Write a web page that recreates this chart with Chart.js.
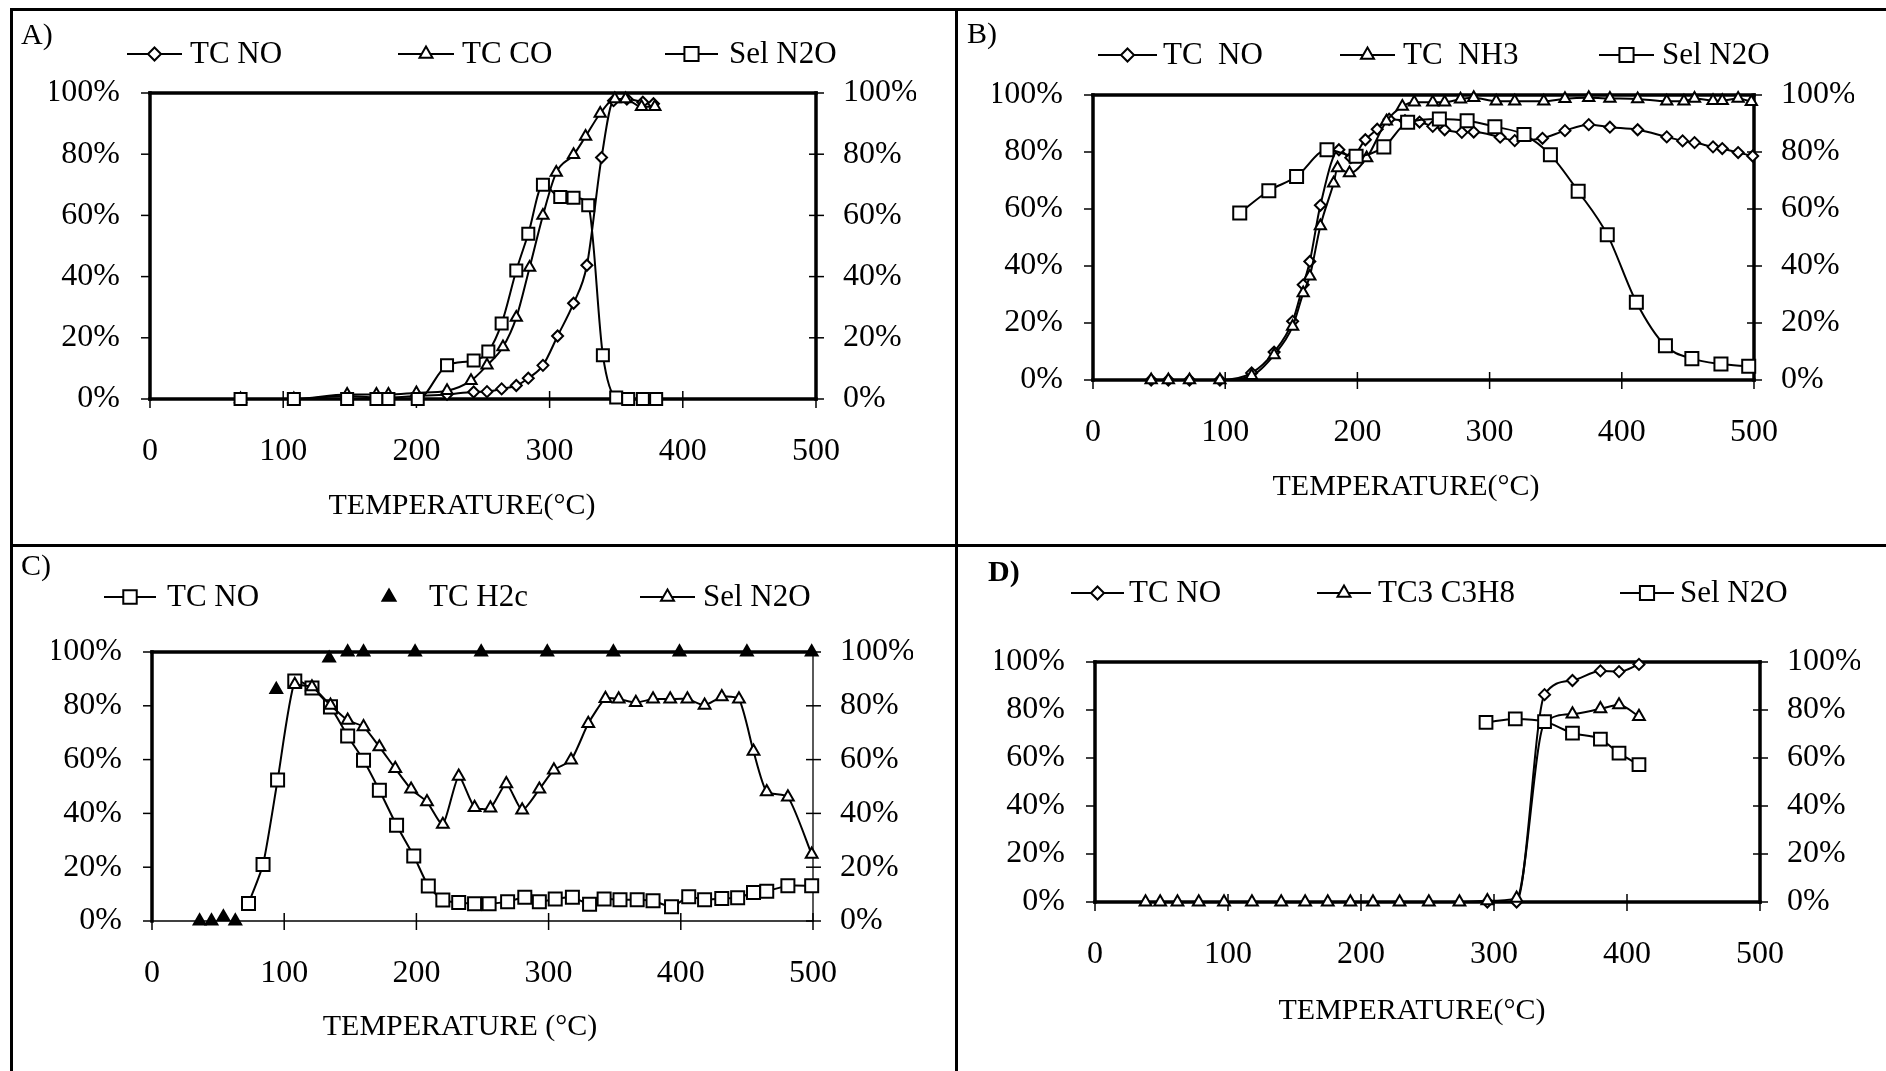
<!DOCTYPE html>
<html>
<head>
<meta charset="utf-8">
<script src="https://cdn.jsdelivr.net/npm/chart.js@4.4.1/dist/chart.umd.min.js"></script>
<style>
  body { margin: 0; background: #fff; width: 1886px; height: 1071px; overflow: hidden; position: relative; }
  .rule { position: absolute; background: #000; }
  .panel { position: absolute; }
</style>
</head>
<body>
<div class="rule" style="left:10px;top:8px;width:1876px;height:3px"></div>
<div class="rule" style="left:10px;top:8px;width:3px;height:1063px"></div>
<div class="rule" style="left:955px;top:8px;width:3px;height:1063px"></div>
<div class="rule" style="left:10px;top:544px;width:1876px;height:3px"></div>

<script>
// ---- Panel A: TC NO / TC CO / Sel N2O ----
const tempA_NO  = [68, 108, 148, 170, 179, 201, 223, 243, 253, 264, 275, 284, 295, 306, 318, 328, 339, 348, 358, 370, 378];
const valA_NO   = [0, 0, 1, 0.5, 0.5, 1, 1.5, 2.3, 2.4, 3.3, 4.4, 6.8, 11, 20.6, 31.3, 43.7, 78.9, 97.5, 98, 97, 96.5];
const tempA_CO  = [68, 108, 148, 170, 179, 200, 223, 241, 253, 265, 275, 285, 295, 305, 318, 327, 338, 349, 357, 369, 379];
const valA_CO   = [0, 0, 1.5, 1.5, 1.5, 2, 2.7, 6, 11, 17, 26.6, 43, 60, 74, 79.8, 85.8, 93.3, 98, 98, 95.5, 95.5];
const tempA_N2O = [68, 108, 148, 170, 179, 201, 223, 243, 254, 264, 275, 284, 295, 308, 318, 329, 340, 350, 359, 370, 380];
const valA_N2O  = [0, 0, 0, 0, 0, 0, 11, 12.6, 15.5, 24.7, 42, 54, 70, 66, 65.8, 63.3, 14.3, 0.5, 0, 0, 0];

// ---- Panel B: TC NO / TC NH3 / Sel N2O ----
const tempB_NO  = [44, 57, 73, 96, 120, 137, 151, 159, 164, 172, 186, 195, 206, 215, 224, 236, 247, 257, 266, 279, 288, 308, 319, 340, 357, 375, 391, 412, 434, 446, 455, 469, 476, 488, 499];
const valB_NO   = [0, 0, 0, 0, 2.5, 9.8, 20.6, 33.4, 41.6, 61.3, 80.8, 78, 84.3, 88, 91.5, 91, 90.5, 89, 87.8, 86.9, 87, 85.2, 84, 84.8, 87.5, 89.6, 88.7, 87.8, 85.3, 83.9, 83.3, 81.8, 81.2, 79.8, 78.6];
const tempB_NH3 = [44, 57, 73, 96, 120, 137, 151, 159, 164, 172, 182, 185, 194, 207, 222, 234, 243, 257, 266, 278, 288, 305, 319, 341, 357, 375, 391, 412, 434, 447, 455, 469, 476, 488, 498];
const valB_NH3  = [0, 0, 0, 0, 1.5, 8.8, 18.8, 30.5, 36.4, 54, 69, 74.4, 72.6, 77.9, 90.8, 96, 97.5, 97.5, 97.5, 98.5, 99, 97.8, 97.8, 97.8, 98.7, 99, 98.8, 98.6, 97.8, 97.8, 98.8, 98, 98, 98.8, 97.6];
const tempB_N2O = [111, 133, 154, 177, 199, 220, 238, 262, 283, 304, 326, 346, 367, 389, 411, 433, 453, 475, 496];
const valB_N2O  = [58.6, 66.4, 71.4, 80.8, 78.5, 81.8, 90.4, 91.6, 91, 88.9, 86.1, 79, 66.2, 51, 27.3, 12, 7.5, 5.6, 4.8];

// ---- Panel C: TC NO / TC H2c / Sel N2O ----
const tempC_NO  = [73, 84, 95, 108, 121, 135, 148, 160, 172, 185, 198, 209, 220, 232, 244, 255, 269, 282, 293, 305, 318, 331, 342, 354, 367, 379, 393, 406, 418, 431, 443, 455, 465, 481, 499];
const valC_NO   = [6.5, 21, 52.4, 89.2, 86.6, 79.6, 68.8, 59.8, 48.6, 35.6, 24.2, 13, 7.8, 6.9, 6.4, 6.4, 7.2, 8.8, 7.2, 8.2, 8.8, 6.2, 8.2, 7.9, 7.9, 7.5, 5.3, 9, 7.9, 8.4, 8.6, 10.6, 11.1, 13.1, 13.1];
const tempC_H2  = [36, 45, 54, 63, 94, 134, 148, 160, 199, 249, 299, 349, 399, 450, 499];
const valC_H2   = [0, 0, 1.5, 0, 86, 97.7, 100, 100, 100, 100, 100, 100, 100, 100, 100];
const tempC_N2O = [108, 121, 135, 148, 160, 172, 184, 196, 208, 220, 232, 244, 256, 268, 280, 293, 304, 317, 330, 343, 353, 366, 379, 392, 405, 418, 431, 444, 455, 465, 481, 499];
const valC_N2O  = [87.9, 87, 80.2, 74.6, 72.2, 64.7, 56.7, 49, 44.3, 35.9, 53.8, 42.2, 42, 51, 41.2, 49, 56.1, 59.8, 73.4, 82.7, 82.5, 81.2, 82.5, 82.5, 82.5, 80.2, 83.3, 82.5, 63.1, 48, 46.1, 24.8];

// ---- Panel D: TC NO / TC3 C3H8 / Sel N2O ----
const tempD_NO  = [295, 317, 338, 359, 380, 394, 409];
const valD_NO   = [0, 0, 86.4, 92.3, 96.3, 96, 99];
const tempD_C3  = [38, 49, 62, 78, 97, 118, 140, 158, 175, 192, 209, 229, 251, 274, 295, 317, 338, 359, 380, 394, 409];
const valD_C3   = [0, 0, 0, 0, 0, 0, 0, 0, 0, 0, 0, 0, 0, 0, 0.5, 1.5, 74.6, 78.3, 80.5, 82.1, 77.3];
const tempD_N2O = [294, 316, 338, 359, 380, 394, 409];
const valD_N2O  = [74.8, 76.3, 75.2, 70.4, 67.9, 62, 57.2];

const xTicks = [0, 100, 200, 300, 400, 500];
const yTicks = [0, 20, 40, 60, 80, 100];

const FONT = '"Liberation Serif", "Times New Roman", serif';

function drawMarker(ctx, shape, x, y, r, filled) {
    ctx.beginPath();
    if (shape === 'rect') {
        const s = r * Math.SQRT1_2;
        ctx.rect(x - s, y - s, 2 * s, 2 * s);
    } else if (shape === 'rectRot') {
        ctx.moveTo(x, y - r); ctx.lineTo(x + r, y); ctx.lineTo(x, y + r); ctx.lineTo(x - r, y);
        ctx.closePath();
    } else {
        let a = 0;
        for (let i = 0; i < 3; i++) {
            const px = x + Math.sin(a) * r, py = y - Math.cos(a) * r;
            i ? ctx.lineTo(px, py) : ctx.moveTo(px, py);
            a += Math.PI * 2 / 3;
        }
        ctx.closePath();
    }
    ctx.fillStyle = filled ? '#000' : '#fff';
    ctx.fill();
    ctx.stroke();
}

function line(ctx, x1, y1, x2, y2, w) {
    ctx.lineWidth = w;
    ctx.beginPath(); ctx.moveTo(x1, y1); ctx.lineTo(x2, y2); ctx.stroke();
}

// box, tick marks, legend, panel letter and axis title
const framePlugin = {
    id: 'frame',
    beforeDatasetsDraw(chart, args, o) {
        const { ctx, chartArea: a } = chart;
        const xs = chart.scales.x, ys = chart.scales.y;
        const bw = o.border;
        ctx.save();
        ctx.strokeStyle = '#000';
        ctx.lineCap = 'square';
        line(ctx, a.left, a.top, a.right, a.top, bw.top);
        line(ctx, a.left, a.bottom, a.right, a.bottom, bw.bottom);
        line(ctx, a.left, a.top, a.left, a.bottom, bw.left);
        line(ctx, a.right, a.top, a.right, a.bottom, bw.right);
        ctx.lineCap = 'butt';
        xTicks.forEach(v => {
            const px = xs.getPixelForValue(v);
            line(ctx, px, a.bottom - 8, px, a.bottom + 9, 1.5);
        });
        yTicks.forEach(v => {
            const py = ys.getPixelForValue(v);
            line(ctx, a.left - 9, py, a.left, py, 1.5);
            line(ctx, a.right - 7, py, a.right + 8, py, 1.5);
        });
        ctx.restore();
    },
    afterDraw(chart, args, o) {
        const ctx = chart.ctx;
        const ox = o.origin.x, oy = o.origin.y;
        ctx.save();
        ctx.strokeStyle = '#000';
        ctx.fillStyle = '#000';
        ctx.textBaseline = 'middle';

        // legend
        ctx.font = '31px ' + FONT;
        o.legend.items.forEach(it => {
            const y = o.legend.y - oy;
            let mx = it.mx;
            if (it.x1 !== undefined) {
                line(ctx, it.x1 - ox, y, it.x2 - ox, y, 2);
                mx = (it.x1 + it.x2) / 2;
            }
            ctx.lineWidth = 2;
            drawMarker(ctx, it.shape, mx - ox, y, it.r, it.filled);
            ctx.fillStyle = '#000';
            ctx.textAlign = 'left';
            ctx.fillText(it.text, it.tx - ox, y + 1);
        });

        // panel letter
        ctx.font = (o.label.bold ? 'bold ' : '') + '30px ' + FONT;
        ctx.textAlign = 'left';
        ctx.fillText(o.label.text, o.label.x - ox, o.label.y - oy);

        // x axis title
        ctx.font = '30px ' + FONT;
        ctx.textAlign = 'center';
        ctx.fillText(o.xTitle.text, o.xTitle.x - ox, o.xTitle.y - oy);
        ctx.restore();
    }
};

function series(temps, vals, shape, r, order, extra) {
    return Object.assign({
        data: temps.map((t, i) => ({ x: t, y: vals[i] })),
        borderColor: '#000',
        borderWidth: 2,
        pointStyle: shape,
        pointRadius: r,
        pointBorderWidth: 2,
        pointBorderColor: '#000',
        pointBackgroundColor: '#fff',
        fill: false,
        clip: false,
        order: order,
        cubicInterpolationMode: 'monotone'
    }, extra || {});
}

function buildPanel(p) {
    const wrap = document.createElement('div');
    wrap.className = 'panel';
    wrap.style.left = p.origin.x + 'px';
    wrap.style.top = p.origin.y + 'px';
    wrap.style.width = p.origin.w + 'px';
    wrap.style.height = p.origin.h + 'px';
    const canvas = document.createElement('canvas');
    wrap.appendChild(canvas);
    document.body.appendChild(wrap);

    const YW = 100, XH = 125;
    const tickFont = { family: FONT, size: 32 };

    return new Chart(canvas, {
        type: 'line',
        data: { datasets: p.datasets },
        options: {
            responsive: true,
            maintainAspectRatio: false,
            animation: false,
            events: [],
            layout: {
                padding: {
                    left: p.box.l - p.origin.x - YW,
                    top: p.box.t - p.origin.y,
                    right: p.origin.x + p.origin.w - p.box.r - YW,
                    bottom: p.origin.y + p.origin.h - p.box.b - XH
                }
            },
            scales: {
                x: {
                    type: 'linear', min: 0, max: 500,
                    afterBuildTicks: s => { s.ticks = xTicks.map(v => ({ value: v })); },
                    afterFit: s => { s.height = XH; },
                    grid: { display: false, drawTicks: false },
                    border: { display: false },
                    ticks: { padding: 33, font: tickFont, color: '#000', maxRotation: 0, autoSkip: false }
                },
                y: {
                    position: 'left', min: 0, max: 100,
                    afterBuildTicks: s => { s.ticks = yTicks.map(v => ({ value: v })); },
                    afterFit: s => { s.width = YW; },
                    grid: { display: false, drawTicks: false },
                    border: { display: false },
                    ticks: { padding: 30, font: tickFont, color: '#000', callback: v => v + '%' }
                },
                y2: {
                    position: 'right', min: 0, max: 100,
                    afterBuildTicks: s => { s.ticks = yTicks.map(v => ({ value: v })); },
                    afterFit: s => { s.width = YW; },
                    grid: { display: false, drawTicks: false },
                    border: { display: false },
                    ticks: { padding: 27, font: tickFont, color: '#000', callback: v => v + '%' }
                }
            },
            plugins: {
                legend: { display: false },
                tooltip: { enabled: false },
                frame: {
                    origin: p.origin,
                    border: p.border,
                    legend: p.legend,
                    label: p.label,
                    xTitle: p.xTitle
                }
            }
        },
        plugins: [framePlugin]
    });
}

const thick = { top: 3.5, bottom: 3.5, left: 3.5, right: 3.5 };

// A
buildPanel({
    origin: { x: 13, y: 11, w: 942, h: 533 },
    box: { l: 150, r: 816, t: 93, b: 399 },
    border: thick,
    label: { text: 'A)', x: 21, y: 36 },
    xTitle: { text: 'TEMPERATURE(°C)', x: 462, y: 506 },
    legend: { y: 54, items: [
        { x1: 127, x2: 182, tx: 190, text: 'TC NO', shape: 'rectRot', r: 6.5 },
        { x1: 398, x2: 454, tx: 462, text: 'TC CO', shape: 'triangle', r: 7.5 },
        { x1: 665, x2: 718, tx: 729, text: 'Sel N2O', shape: 'rect', r: 10 }
    ]},
    datasets: [
        series(tempA_NO, valA_NO, 'rectRot', 5.5, 2),
        series(tempA_CO, valA_CO, 'triangle', 6.5, 1),
        series(tempA_N2O, valA_N2O, 'rect', 8.5, 0)
    ]
});

// B
buildPanel({
    origin: { x: 958, y: 11, w: 928, h: 533 },
    box: { l: 1093, r: 1754, t: 95, b: 380 },
    border: thick,
    label: { text: 'B)', x: 967, y: 35 },
    xTitle: { text: 'TEMPERATURE(°C)', x: 1406, y: 487 },
    legend: { y: 55, items: [
        { x1: 1098, x2: 1157, tx: 1163, text: 'TC  NO', shape: 'rectRot', r: 6.5 },
        { x1: 1340, x2: 1395, tx: 1403, text: 'TC  NH3', shape: 'triangle', r: 7.5 },
        { x1: 1599, x2: 1654, tx: 1662, text: 'Sel N2O', shape: 'rect', r: 10 }
    ]},
    datasets: [
        series(tempB_NO, valB_NO, 'rectRot', 5.5, 2),
        series(tempB_NH3, valB_NH3, 'triangle', 6.5, 1),
        series(tempB_N2O, valB_N2O, 'rect', 9.2, 0)
    ]
});

// C
buildPanel({
    origin: { x: 13, y: 547, w: 942, h: 524 },
    box: { l: 152, r: 813, t: 652, b: 921 },
    border: { top: 3.5, left: 3.5, bottom: 1.5, right: 1.3 },
    label: { text: 'C)', x: 21, y: 567 },
    xTitle: { text: 'TEMPERATURE (°C)', x: 460, y: 1027 },
    legend: { y: 597, items: [
        { x1: 104, x2: 156, tx: 167, text: 'TC NO', shape: 'rect', r: 9.5 },
        { mx: 389, tx: 429, text: 'TC H2c', shape: 'triangle', r: 7.5, filled: true },
        { x1: 640, x2: 695, tx: 703, text: 'Sel N2O', shape: 'triangle', r: 7.5 }
    ]},
    datasets: [
        series(tempC_NO, valC_NO, 'rect', 9.2, 2, { cubicInterpolationMode: 'default', tension: 0.2 }),
        series(tempC_H2, valC_H2, 'triangle', 6.8, 1, { showLine: false, pointBackgroundColor: '#000' }),
        series(tempC_N2O, valC_N2O, 'triangle', 6.8, 0, { cubicInterpolationMode: 'default', tension: 0.2 })
    ]
});

// D
buildPanel({
    origin: { x: 958, y: 547, w: 928, h: 524 },
    box: { l: 1095, r: 1760, t: 662, b: 902 },
    border: thick,
    label: { text: 'D)', x: 988, y: 573, bold: true },
    xTitle: { text: 'TEMPERATURE(°C)', x: 1412, y: 1011 },
    legend: { y: 593, items: [
        { x1: 1071, x2: 1124, tx: 1129, text: 'TC NO', shape: 'rectRot', r: 6.5 },
        { x1: 1317, x2: 1371, tx: 1378, text: 'TC3 C3H8', shape: 'triangle', r: 7.5 },
        { x1: 1620, x2: 1674, tx: 1680, text: 'Sel N2O', shape: 'rect', r: 10 }
    ]},
    datasets: [
        series(tempD_NO, valD_NO, 'rectRot', 5.5, 2),
        series(tempD_C3, valD_C3, 'triangle', 6.8, 1),
        series(tempD_N2O, valD_N2O, 'rect', 9, 0)
    ]
});
</script>
</body>
</html>
